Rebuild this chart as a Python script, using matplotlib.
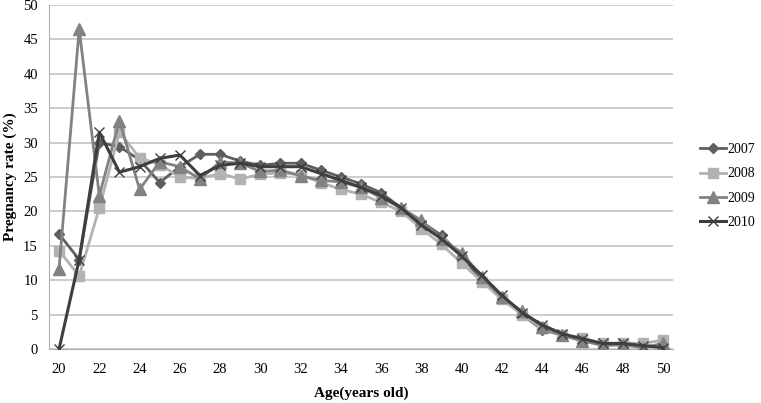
import matplotlib
matplotlib.use("Agg")
import matplotlib.pyplot as plt

# Pregnancy rate (%) by age, 2007-2010
ages = list(range(20, 51))

rate_2007 = [16.7, 13.0, 30.0, 29.4, 27.5, 24.2, 26.5, 28.3, 28.3, 27.3, 26.7, 27.0, 27.0, 26.0, 25.0, 24.0, 22.7, 20.5, 18.5, 16.5, 13.5,
             10.0, 7.5, 5.0, 2.8, 2.0, 1.2, 0.8, 0.7, 0.5, 0.3]
rate_2008 = [14.3, 10.6, 20.5, 31.5, 27.8, 26.8, 25.0, 24.8, 25.5, 24.7, 25.4, 25.6, 25.3, 24.2, 23.2, 22.5, 21.3, 20.0, 17.5, 15.2, 12.5,
             9.8, 7.2, 5.0, 3.0, 2.0, 1.6, 0.8, 0.9, 0.8, 1.3]
rate_2009 = [11.7, 46.5, 22.3, 33.2, 23.2, 27.2, 26.5, 24.7, 27.2, 27.0, 25.8, 26.0, 25.2, 24.5, 24.3, 23.5, 22.0, 20.5, 18.7, 16.0, 14.0,
             10.5, 7.5, 5.5, 3.2, 2.0, 1.2, 0.5, 0.6, 0.2, 0.8]
rate_2010 = [0.0, 13.0, 31.5, 25.7, 26.5, 27.7, 28.2, 25.2, 26.7, 27.0, 26.5, 26.5, 26.5, 25.5, 24.5, 23.5, 22.3, 20.5, 18.0, 16.0, 13.5,
             10.7, 7.8, 5.3, 3.5, 2.2, 1.5, 0.8, 0.8, 0.5, 0.2]

plt.rcParams["font.family"] = "Liberation Serif"

fig = plt.figure(figsize=(7.61, 4.03), dpi=100)
ax = fig.add_axes([49 / 761, 54 / 403, 624 / 761, 344 / 403])

ax.plot(ages, rate_2007, color="#5f5f5f", lw=2.0, marker="D", ms=5, label="2007", zorder=3)
ax.plot(ages, rate_2008, color="#b2b2b2", lw=2.0, marker="s", ms=7, label="2008", zorder=3)
ax.plot(ages, rate_2009, color="#828282", lw=2.0, marker="^", ms=8, label="2009", zorder=3)
ax.plot(ages, rate_2010, color="#3e3e3e", lw=2.2, marker="x", ms=7, mew=1.0, label="2010", zorder=4)

ax.set_xlim(19.5, 50.5)
ax.set_ylim(0, 50)
ax.set_xticks(range(20, 51, 2))
ax.set_yticks(range(0, 51, 5))
ax.tick_params(axis="both", length=0, labelsize=10.5, colors="#000000")
ax.tick_params(axis="x", pad=10)
ax.tick_params(axis="y", pad=8)

ax.grid(axis="y", color="#c4c4c4", lw=1.2)
ax.set_axisbelow(True)
for side in ["top", "right"]:
    ax.spines[side].set_visible(False)
ax.spines["left"].set_color("#b0b0b0")
ax.spines["bottom"].set_color("#b0b0b0")

ax.set_xlabel("Age(years old)", fontsize=11, fontweight="bold", labelpad=8)
ax.set_ylabel("Pregnancy rate (%)", fontsize=11, fontweight="bold")
ax.yaxis.set_label_coords(-0.052, 0.5)

fig.legend(loc="center left", bbox_to_anchor=(700 / 761, 1 - 186 / 403), frameon=False,
           fontsize=10, handlelength=1.9, labelspacing=0.8, handletextpad=0.1, borderpad=0,
           borderaxespad=0)

fig.savefig("out.png", dpi=100)
